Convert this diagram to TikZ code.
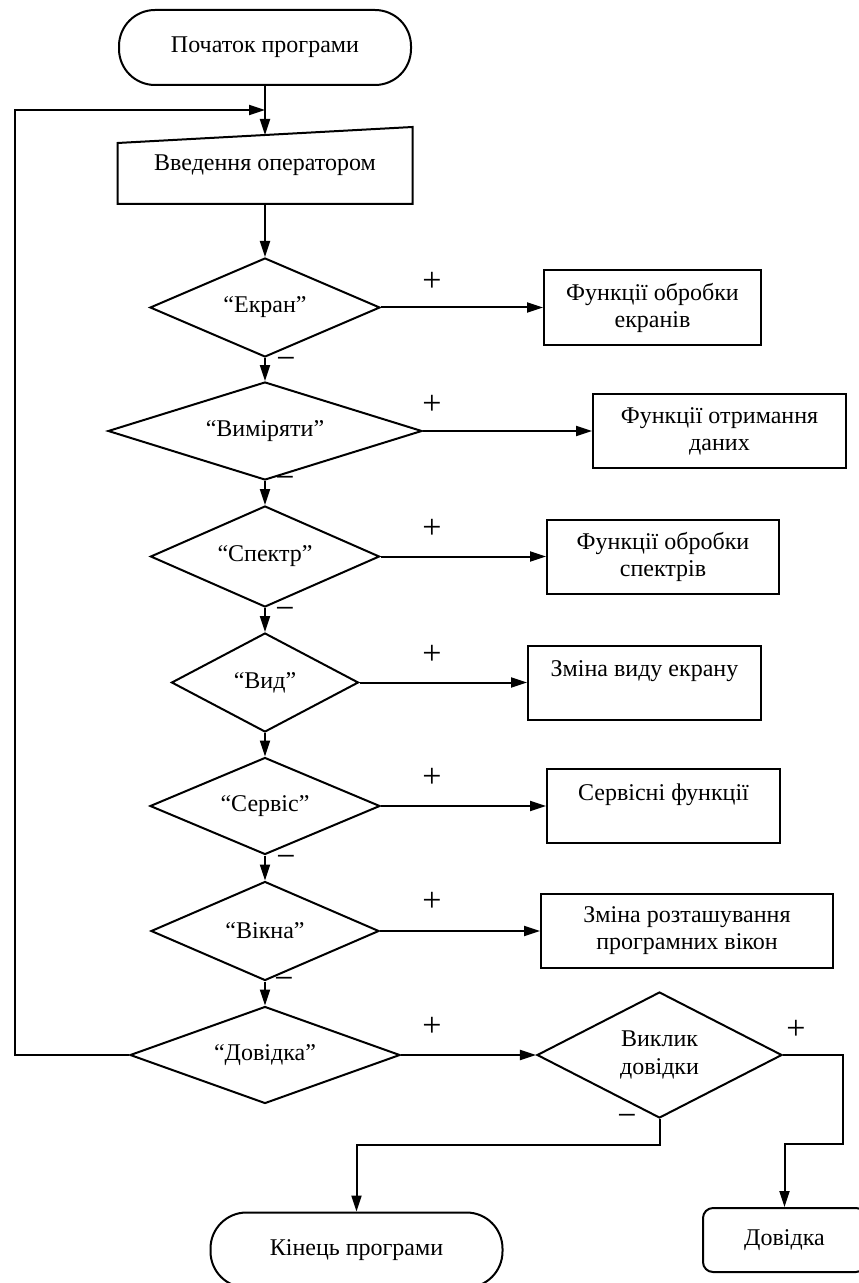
\documentclass[tikz,border=0pt]{standalone}
\usepackage{fontspec}
\setmainfont{Liberation Serif}
\usetikzlibrary{shapes.geometric, arrows.meta, calc}

\begin{document}
\begin{tikzpicture}[x=0.5pt, y=-0.5pt, line width=1pt,
  font=\fontsize{12}{13.5}\selectfont,
  term/.style={draw, rounded corners=18pt, minimum width=146pt, minimum height=37.5pt},
  cond/.style={draw, diamond, inner sep=0pt, aspect=2},
  func/.style={draw, align=center, minimum height=37pt},
  sign/.style={font=\fontsize{17}{17}\selectfont, inner sep=0pt},
  arr/.style={-{Triangle[length=8pt, width=5pt]}}]
\useasboundingbox (0, 0) rectangle (858, 1283);

% Start and input
\node[term] (start) at (265, 47.5) {Початок програми};
\node[minimum width=146.5pt, minimum height=37.5pt] (input) at (265, 165.5) {Введення оператором};
\draw (input.south west) -- (input.south east) -- (input.north east) -- ([yshift=-8pt]input.north west) -- cycle;
\coordinate (inslant) at ($([yshift=-8pt]input.north west)!0.5!(input.north east)$);
\coordinate (merge) at (265, 110);
\coordinate (back) at (15, 110);

% Menu checks
\node[cond, minimum width=115pt, minimum height=49.5pt] (ekran) at (265, 307.5) {“Екран”};
\node[cond, minimum width=157pt, minimum height=49pt] (vymir) at (265, 431) {“Виміряти”};
\node[cond, minimum width=114.5pt, minimum height=50.5pt] (spektr) at (265, 556.5) {“Спектр”};
\node[cond, minimum width=93.5pt, minimum height=49.5pt] (vyd) at (265, 682.5) {“Вид”};
\node[cond, minimum width=115pt, minimum height=48.5pt] (servis) at (265, 806) {“Сервіс”};
\node[cond, minimum width=114pt, minimum height=49.5pt] (vikna) at (265, 931) {“Вікна”};
\node[cond, minimum width=135pt, minimum height=48.5pt] (dovidka) at (265, 1055) {“Довідка”};
\node[cond, align=center, font=\fontsize{12}{14}\selectfont, minimum width=122.5pt, minimum height=63pt] (vyklyk) at (659.5, 1055) {Виклик\\довідки};

% Functions
\node[func, minimum width=108.5pt] (fekran) at (652.5, 307.5) {Функції обробки\\екранів};
\node[func, minimum width=126.5pt] (fvymir) at (719.5, 431) {Функції отримання\\даних};
\node[func, minimum width=116pt] (fspektr) at (663, 556.5) {Функції обробки\\спектрів};
\node[func, minimum width=116.5pt] (fvyd) at (644.5, 682.5) {Зміна виду екрану\\~};
\node[func, minimum width=116.5pt] (fservis) at (663.5, 806) {Сервісні функції\\~};
\node[func, minimum width=146pt] (fvikna) at (687, 931) {Зміна розташування\\програмних вікон};
\node[draw, rounded corners=5pt, minimum width=81.5pt, minimum height=32pt] (help) at (784.5, 1240) {Довідка};
\node[term] (stop) at (356.5, 1250) {Кінець програми};

% Signs
\node[sign] (p1) at (432, 282) {+};
\node[sign] (p2) at (432, 405) {+};
\node[sign] (p3) at (432, 529) {+};
\node[sign] (p4) at (432, 655) {+};
\node[sign] (p5) at (432, 778) {+};
\node[sign] (p6) at (432, 902) {+};
\node[sign] (p7) at (432, 1027) {+};
\node[sign] (p8) at (796, 1030) {+};
\node[sign] (m1) at (286, 363) {−};
\node[sign] (m2) at (285, 482) {−};
\node[sign] (m3) at (285, 613) {−};
\node[sign] (m4) at (286, 861) {−};
\node[sign] (m5) at (284, 983) {−};
\node[sign] (m6) at (627, 1120) {−};

% Connectors
\draw[arr] (start) -- (inslant);
\draw[arr] (input) -- (ekran);
\draw[arr] (ekran) -- (vymir);
\draw[arr] (vymir) -- (spektr);
\draw[arr] (spektr) -- (vyd);
\draw[arr] (vyd) -- (servis);
\draw[arr] (servis) -- (vikna);
\draw[arr] (vikna) -- (dovidka);
\draw[arr] (ekran) -- (fekran);
\draw[arr] (vymir) -- (fvymir);
\draw[arr] (spektr) -- (fspektr);
\draw[arr] (vyd) -- (fvyd);
\draw[arr] (servis) -- (fservis);
\draw[arr] (vikna) -- (fvikna);
\draw[arr] (dovidka) -- (vyklyk);
\draw[arr] (dovidka) -| (back) -- (merge);
\draw[arr] (vyklyk.east) -- ++(60, 0) -- ++(0, 89) -| (help);
\draw[arr] (vyklyk.south) -- ++(0, 26) -| (stop);
\end{tikzpicture}
\end{document}
